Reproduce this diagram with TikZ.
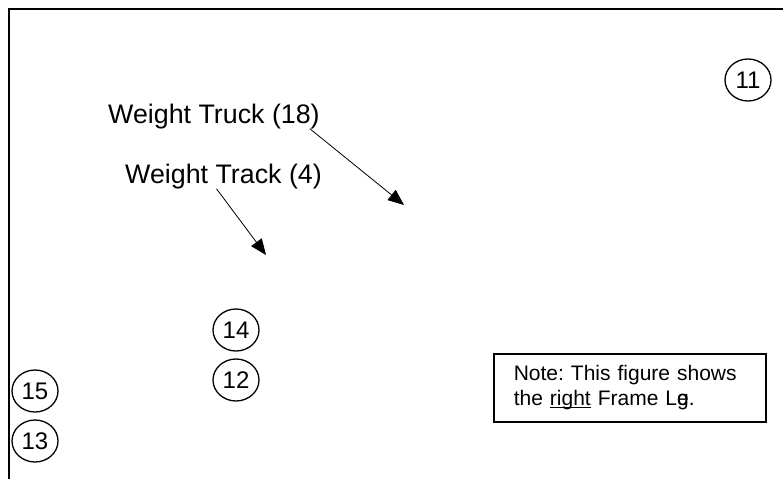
\documentclass[tikz,border=0pt]{standalone}
\usepackage{fontspec}
\setmainfont{Liberation Sans}
\usetikzlibrary{arrows.meta,shapes.geometric}
\newcommand\lineunder[1]{\leavevmode\setbox0\hbox{#1}\rlap{\rule[-2.2pt]{\wd0}{0.9pt}}\box0\relax}

\begin{document}
\begin{tikzpicture}[
  x=1pt,y=-1pt,
  frame line/.style={draw,line width=1.8pt},
  weight label/.style={inner sep=0pt,anchor=base west,font=\fontsize{26.8}{32}\selectfont},
  weight arrow/.style={draw,line width=0.8pt,-{Triangle[length=16pt,width=13pt]}},
  part number/.style={draw,ellipse,line width=1.3pt,minimum width=46,minimum height=42,inner sep=0pt,font=\fontsize{24}{28}\selectfont},
  note box/.style={draw,line width=1.5pt,anchor=north west,minimum width=272,minimum height=68,text width=232pt,inner xsep=19.5pt,align=left,font=\fontsize{21}{25}\selectfont\frenchspacing},
]
\useasboundingbox (0,0) rectangle (783,479);
\draw[frame line] (9,479) -- (9,9) -- (783,9);
\node[weight label] (truck) at (108,123) {Weight Truck (18)};
\node[weight label] (track) at (125,183) {Weight Track (4)};
\coordinate (truck tip) at (404,205);
\coordinate (track tip) at (266,255);
\draw[weight arrow] ([xshift=-10pt]truck.south east) -- (truck tip);
\draw[weight arrow] ([xshift=-7pt]track.south) -- (track tip);
\foreach \num/\px/\py in {11/748/80,14/236/330,12/236/380,15/35/391,13/35/441} {
  \node[part number] (part\num) at (\px,\py) {\num};
}
\node[note box] (note) at (493,353) {Note: This figure shows\\the \lineunder{right} Frame L\rlap{e}g.};
\end{tikzpicture}
\end{document}
